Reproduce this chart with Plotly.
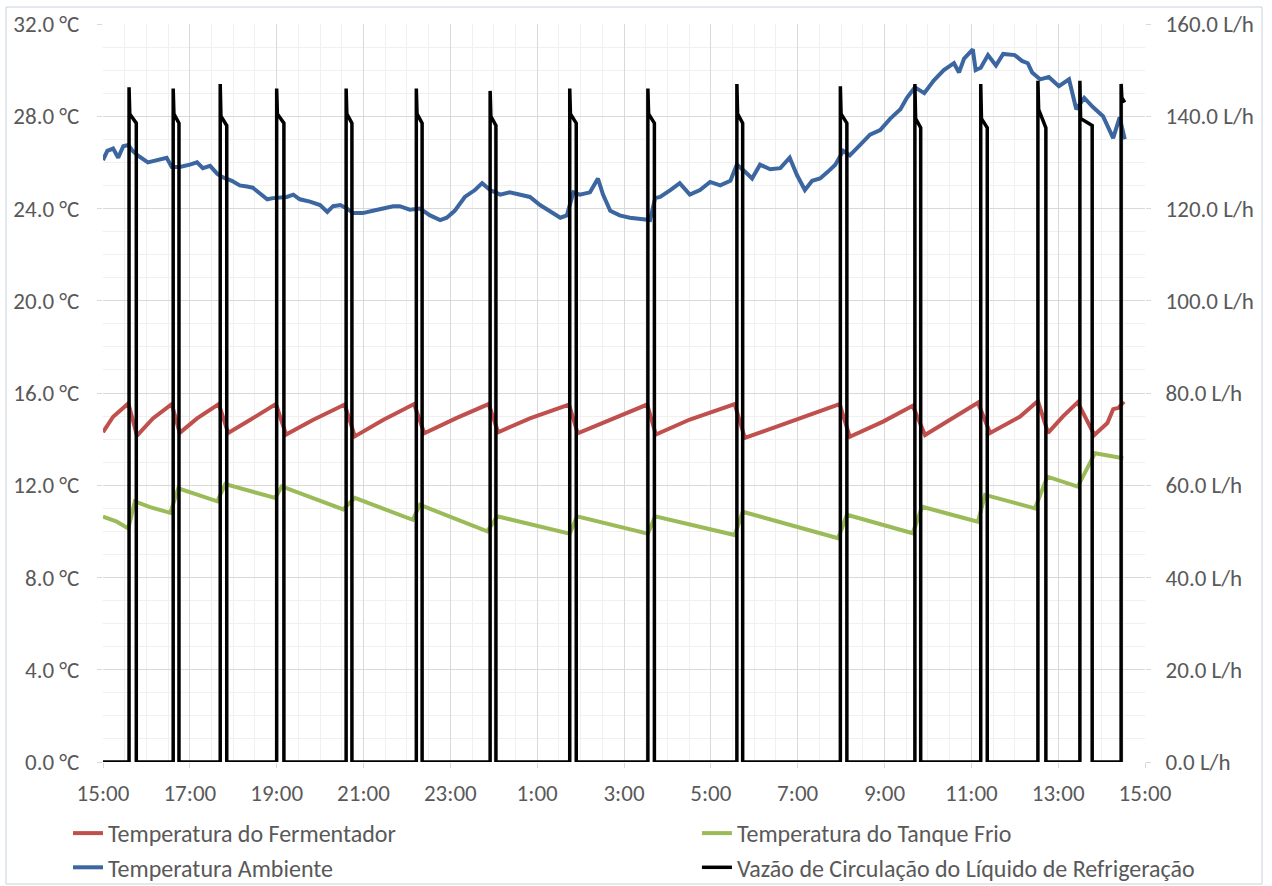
import plotly.graph_objects as go
from datetime import datetime, timedelta

# ---------------- data ----------------
BASE_DAY = "2019-05-20"

ferm_t = ["15:00", "15:14", "15:35", "15:47", "16:09", "16:35", "16:46", "17:10", "17:40", "17:53",
          "18:23", "18:59", "19:13", "19:50", "20:34", "20:48", "21:27", "22:10", "22:24", "23:09",
          "23:53", "00:06", "00:50", "01:44", "01:56", "02:43", "03:32", "03:44", "04:31", "05:33",
          "05:47", "07:58", "08:12", "08:58", "09:39", "09:56", "10:31", "11:09", "11:26", "12:07",
          "12:32", "12:46", "13:07", "13:27", "13:50", "14:08", "14:16", "14:23", "14:31"]
ferm_v = [14.3, 14.97, 15.55, 14.15, 14.9, 15.52, 14.27, 14.9, 15.52, 14.27,
          14.83, 15.52, 14.2, 14.83, 15.5, 14.12, 14.83, 15.52, 14.25, 14.92,
          15.52, 14.3, 14.9, 15.5, 14.25, 14.85, 15.5, 14.2, 14.85, 15.52,
          14.05, 15.52, 14.1, 14.76, 15.45, 14.18, 14.83, 15.58, 14.27, 14.97,
          15.65, 14.27, 15.0, 15.6, 14.18, 14.7, 15.3, 15.35, 15.62]

tank_t = ["15:00", "15:19", "15:35", "15:44", "16:05", "16:33", "16:44", "17:14", "17:38", "17:49",
          "18:23", "18:58", "19:07", "20:32", "20:48", "22:08", "22:18", "23:51", "00:05", "01:45",
          "01:55", "03:33", "03:43", "05:33", "05:44", "07:56", "08:08", "09:39", "09:52", "11:09",
          "11:19", "12:28", "12:45", "13:27", "13:51", "14:30"]
tank_v = [10.64, 10.42, 10.13, 11.3, 11.05, 10.8, 11.87, 11.55, 11.3, 12.05,
          11.75, 11.45, 11.95, 10.95, 11.45, 10.5, 11.15, 10.0, 10.65, 9.9,
          10.65, 9.9, 10.65, 9.84, 10.85, 9.7, 10.72, 9.92, 11.07, 10.42,
          11.58, 11.0, 12.37, 11.94, 13.39, 13.17]

amb_t = ["15:00", "15:06", "15:14", "15:21", "15:28", "15:35", "15:41", "15:48", "16:02", "16:15",
         "16:28", "16:35", "16:46", "17:00", "17:10", "17:18", "17:28", "17:38", "17:46", "17:58",
         "18:09", "18:19", "18:27", "18:37", "18:47", "18:55", "19:14", "19:23", "19:32", "19:46",
         "20:00", "20:10", "20:18", "20:28", "20:37", "20:46", "20:59", "21:13", "21:27", "21:41",
         "21:50", "22:04", "22:18", "22:32", "22:46", "22:55", "23:06", "23:20", "23:34", "23:44",
         "23:55", "00:09", "00:22", "00:36", "00:50", "01:04", "01:18", "01:32", "01:41", "01:50",
         "01:59", "02:13", "02:24", "02:31", "02:41", "02:54", "03:08", "03:22", "03:36", "03:43",
         "03:50", "04:04", "04:17", "04:31", "04:45", "04:59", "05:13", "05:27", "05:36", "05:47",
         "05:57", "06:08", "06:22", "06:36", "06:49", "06:59", "07:10", "07:20", "07:31", "07:42",
         "07:52", "08:03", "08:12", "08:26", "08:40", "08:54", "09:08", "09:22", "09:31", "09:42",
         "09:55", "10:08", "10:22", "10:36", "10:43", "10:50", "11:02", "11:06", "11:13", "11:23",
         "11:34", "11:44", "12:00", "12:10", "12:18", "12:24", "12:35", "12:47", "13:01", "13:15",
         "13:25", "13:36", "13:48", "14:02", "14:16", "14:25", "14:32"]
amb_v = [26.1, 26.5, 26.6, 26.2, 26.7, 26.75, 26.5, 26.3, 26.0, 26.1,
         26.2, 25.8, 25.8, 25.9, 26.0, 25.75, 25.85, 25.5, 25.35, 25.2,
         25.0, 24.95, 24.9, 24.65, 24.4, 24.45, 24.5, 24.6, 24.4, 24.3,
         24.15, 23.85, 24.1, 24.15, 24.0, 23.8, 23.8, 23.9, 24.0, 24.1,
         24.1, 23.95, 24.0, 23.7, 23.5, 23.6, 23.9, 24.5, 24.8, 25.1,
         24.8, 24.6, 24.7, 24.6, 24.5, 24.15, 23.9, 23.6, 23.7, 24.7,
         24.6, 24.7, 25.3, 24.6, 23.9, 23.7, 23.6, 23.55, 23.5, 24.45,
         24.5, 24.8, 25.1, 24.6, 24.8, 25.15, 25.0, 25.2, 25.9, 25.6,
         25.3, 25.9, 25.7, 25.75, 26.2, 25.45, 24.8, 25.2, 25.3, 25.6,
         25.9, 26.5, 26.3, 26.75, 27.2, 27.4, 27.9, 28.3, 28.8, 29.25,
         29.0, 29.55, 30.0, 30.3, 29.9, 30.5, 30.9, 30.0, 30.1, 30.65,
         30.2, 30.7, 30.65, 30.4, 30.3, 29.9, 29.6, 29.7, 29.3, 29.6,
         28.3, 28.8, 28.4, 28.0, 27.05, 27.95, 27.0]

# coolant flow pulses (L/h)
pulse_on = ["15:36", "16:37", "17:42", "19:00", "20:36", "22:13", "23:55", "01:45",
            "03:33", "05:36", "07:59", "09:42", "11:13", "12:32", "13:30", "14:27"]
pulse_off = ["15:46", "16:45", "17:51", "19:10", "20:44", "22:21", "00:03", "01:54",
             "03:42", "05:44", "08:08", "09:50", "11:22", "12:43", "13:47", "14:32"]
pulse_peak = [146.3, 146.0, 147.0, 146.0, 146.0, 146.0, 145.5, 146.0,
              146.0, 147.0, 146.5, 147.0, 147.0, 147.7, 147.7, 147.0]
pulse_level = [140.5, 140.5, 140.0, 140.5, 140.5, 140.5, 140.0, 140.5,
               140.5, 140.5, 140.5, 139.5, 139.5, 141.5, 139.5, 144.0]
pulse_end = [138.5, 138.5, 138.0, 138.5, 138.5, 138.5, 138.0, 138.5,
             138.5, 138.5, 138.5, 137.5, 137.5, 137.5, 138.0, 143.0]
flow_start = "15:00"

# ---------------- helpers ----------------
base = datetime.strptime(BASE_DAY, "%Y-%m-%d")


def ts(hm, minutes=0):
    h, m = map(int, hm.split(":"))
    d = base + timedelta(hours=h, minutes=m + minutes)
    if h < 15:
        d += timedelta(days=1)
    return d


flow_x, flow_y = [ts(flow_start)], [0]
for i in range(len(pulse_on)):
    last = i == len(pulse_on) - 1
    flow_x += [ts(pulse_on[i]), ts(pulse_on[i]), ts(pulse_on[i], 1), ts(pulse_off[i])]
    flow_y += [0, pulse_peak[i], pulse_level[i], pulse_end[i]]
    if not last:
        flow_x.append(ts(pulse_off[i]))
        flow_y.append(0)

FONT = "Carlito, Calibri, Lato, sans-serif"
GRAY = "#595959"

fig = go.Figure()
fig.add_trace(go.Scatter(x=[ts(t) for t in ferm_t], y=ferm_v, mode="lines",
                         name="Temperatura do Fermentador",
                         line=dict(color="#c0504d", width=4),
                         legend="legend", legendgroup="a"))
fig.add_trace(go.Scatter(x=[ts(t) for t in tank_t], y=tank_v, mode="lines",
                         name="Temperatura do Tanque Frio",
                         line=dict(color="#9bbb59", width=4),
                         legend="legend2", legendgroup="b"))
fig.add_trace(go.Scatter(x=[ts(t) for t in amb_t], y=amb_v, mode="lines",
                         name="Temperatura Ambiente",
                         line=dict(color="#3b66a0", width=4),
                         legend="legend", legendgroup="c"))
fig.add_trace(go.Scatter(x=flow_x, y=flow_y, mode="lines", yaxis="y2",
                         name="Vazão de Circulação do Líquido de Refrigeração",
                         line=dict(color="#000000", width=3.5),
                         legend="legend2", legendgroup="d"))

x0 = base + timedelta(hours=15)
x1 = x0 + timedelta(hours=24)

tickfont = dict(family=FONT, size=23, color=GRAY)
legfont = dict(family=FONT, size=24, color=GRAY)
fig.update_layout(
    width=1272, height=886,
    margin=dict(l=103, r=127, t=24, b=124, autoexpand=False),
    paper_bgcolor="white", plot_bgcolor="white",
    font=dict(family=FONT, size=23, color=GRAY),
    xaxis=dict(type="date", range=[x0, x1], tick0=x0, dtick=7200000,
               tickformat="%-H:%M", showgrid=True, gridcolor="#d9d9d9", gridwidth=1,
               minor=dict(dtick=1800000, showgrid=True, gridcolor="#f0f0f0"),
               ticks="outside", ticklen=5, tickcolor="#d9d9d9", ticklabelstandoff=5,
               showline=False, zeroline=False, tickfont=tickfont),
    yaxis=dict(range=[0, 32], dtick=4, tick0=0, tickformat=".1f", ticksuffix=" °C",
               showgrid=True, gridcolor="#d9d9d9", gridwidth=1,
               minor=dict(dtick=1, showgrid=True, gridcolor="#f0f0f0"),
               ticks="outside", ticklen=5, tickcolor="#d9d9d9", ticklabelstandoff=13,
               showline=False, zeroline=False, tickfont=tickfont),
    yaxis2=dict(range=[0, 160], dtick=20, tick0=0, tickformat=".1f", ticksuffix=" L/h",
                overlaying="y", side="right", showgrid=False,
                ticks="outside", ticklen=5, tickcolor="#d9d9d9", ticklabelstandoff=10,
                showline=False, zeroline=False, tickfont=tickfont),
    legend=dict(orientation="v", x=-0.0336, xanchor="left", y=-0.0664, yanchor="top",
                tracegroupgap=0, font=legfont, bgcolor="rgba(0,0,0,0)"),
    legend2=dict(orientation="v", x=0.570, xanchor="left", y=-0.0664, yanchor="top",
                 tracegroupgap=0, font=legfont, bgcolor="rgba(0,0,0,0)"),
    showlegend=True,
    shapes=[dict(type="rect", xref="paper", yref="paper",
                 x0=-0.0931, x1=1.1123, y0=-0.1653, y1=1.023,
                 line=dict(color="#c9d2dd", width=1), fillcolor="rgba(0,0,0,0)",
                 layer="below")],
)

fig.write_html("out.html")
